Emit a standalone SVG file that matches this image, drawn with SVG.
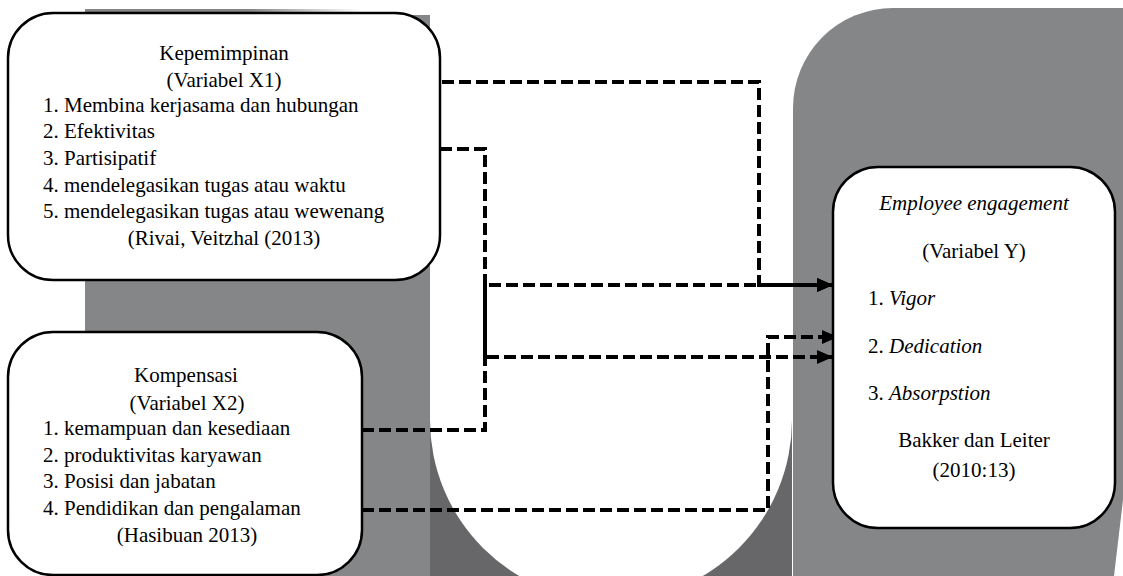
<svg xmlns="http://www.w3.org/2000/svg" width="1123" height="576" viewBox="0 0 1123 576">
<style>
text{font-family:"Liberation Serif","Times New Roman",serif;font-size:21px;fill:#000}
.c{text-anchor:middle}
.i{font-style:italic}
.box{fill:#fff;stroke:#000;stroke-width:2.5}
.con{fill:none;stroke:#000;stroke-width:4;stroke-dasharray:12 5}
</style>
<defs>
<marker id="ah" markerUnits="userSpaceOnUse" markerWidth="18" markerHeight="14" refX="16" refY="7" orient="auto">
<path d="M0,0 L16,7 L0,14 z" fill="#000"/>
</marker>
<linearGradient id="topfade" x1="0" x2="1" y1="0" y2="0">
<stop offset="0.6" stop-color="#858688"/>
<stop offset="1" stop-color="#858688" stop-opacity="0"/>
</linearGradient>
</defs>
<g id="background">
<rect x="0" y="0" width="1123" height="576" fill="#fff"/>
<rect x="85" y="9" width="275" height="6" fill="url(#topfade)"/>
<rect x="85" y="15" width="345" height="561" fill="#858688"/>
<rect x="430" y="420" width="362" height="156" fill="#67676a"/>
<path d="M430,0 H792 V420 A181,181 0 0 1 430,420 Z" fill="#fff"/>
<path d="M793,108 A100,100 0 0 1 893,8 H1123 V500 L1114,576 H793 Z" fill="#858688"/>
</g>
<g id="connectors">
<path class="con" d="M442,82 H759 V285 H833" marker-end="url(#ah)"/>
<path class="con" d="M440,149 H485 V357 H833" marker-end="url(#ah)"/>
<path class="con" d="M362,430 H485 V285 H833" marker-end="url(#ah)"/>
<path class="con" d="M362,510 H768 V337 H838" marker-end="url(#ah)"/>
</g>
<g id="node-x1">
<rect class="box" x="8" y="13" width="432" height="267" rx="45" ry="45"/>
<text class="c" x="224" y="60">Kepemimpinan</text>
<text class="c" x="224" y="87">(Variabel X1)</text>
<text x="43" y="112">1. Membina kerjasama dan hubungan</text>
<text x="43" y="138">2. Efektivitas</text>
<text x="43" y="165">3. Partisipatif</text>
<text x="43" y="192">4. mendelegasikan tugas atau waktu</text>
<text x="43" y="218">5. mendelegasikan tugas atau wewenang</text>
<text class="c" x="224" y="245">(Rivai, Veitzhal (2013)</text>
</g>
<g id="node-x2">
<rect class="box" x="8" y="332" width="354" height="243" rx="45" ry="45"/>
<text class="c" x="186" y="382">Kompensasi</text>
<text class="c" x="187" y="410">(Variabel X2)</text>
<text x="43" y="435">1. kemampuan dan kesediaan</text>
<text x="43" y="462">2. produktivitas karyawan</text>
<text x="43" y="488">3. Posisi dan jabatan</text>
<text x="43" y="515">4. Pendidikan dan pengalaman</text>
<text class="c" x="187" y="542">(Hasibuan 2013)</text>
</g>
<g id="node-y">
<rect class="box" x="833" y="167" width="282" height="361" rx="45" ry="45"/>
<text class="c i" x="974" y="210">Employee engagement</text>
<text class="c" x="974" y="258">(Variabel Y)</text>
<text x="868" y="305">1. <tspan class="i">Vigor</tspan></text>
<text x="868" y="353">2. <tspan class="i">Dedication</tspan></text>
<text x="868" y="400">3. <tspan class="i">Absorpstion</tspan></text>
<text class="c" x="974" y="447">Bakker dan Leiter</text>
<text class="c" x="974" y="477">(2010:13)</text>
</g>
</svg>
